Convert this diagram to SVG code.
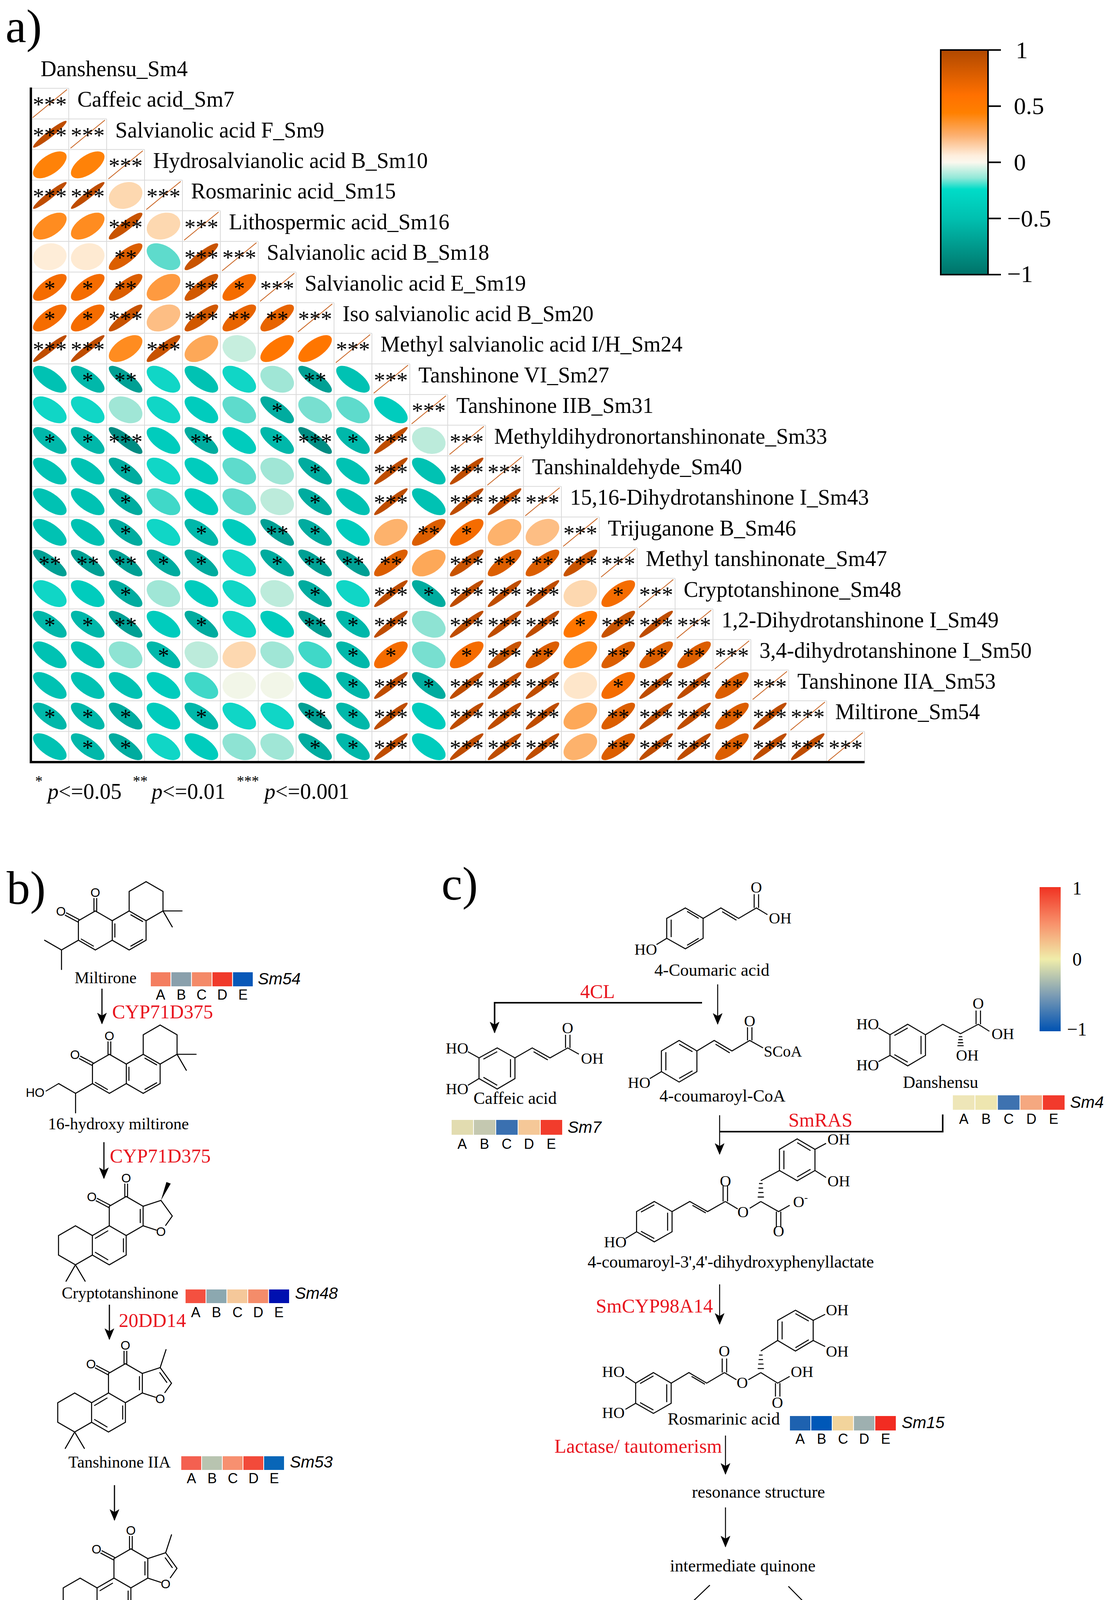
<svg xmlns="http://www.w3.org/2000/svg" xmlns:xlink="http://www.w3.org/1999/xlink" width="2831" height="4820" viewBox="0 0 2831 4820">
<style>
.st{font-family:"Liberation Serif",serif;font-size:58px;text-anchor:middle}
.lb{font-family:"Liberation Serif",serif;font-size:56px}
.big{font-family:"Liberation Serif",serif;font-size:120px}
.nm{font-family:"Liberation Serif",serif;font-size:42px}
.cn{font-family:"Liberation Serif",serif;font-size:44px}
.red{font-family:"Liberation Serif",serif;font-size:50px;fill:#E8141E}
.at{font-family:"Liberation Sans",sans-serif;font-size:32px;text-anchor:middle}
.ct{font-family:"Liberation Serif",serif;font-size:40px}
.abc{font-family:"Liberation Sans",sans-serif;font-size:36px;text-anchor:middle}
.sm{font-family:"Liberation Sans",sans-serif;font-size:42px;font-style:italic}
.bond{fill:none;stroke:#000;stroke-width:2.6;stroke-linecap:round}
.nss{fill:none;stroke:#000;stroke-width:2.6;vector-effect:non-scaling-stroke}
.arr{fill:none;stroke:#000;stroke-width:3}
.cbt{font-family:"Liberation Serif",serif;font-size:62px}
.cbc{font-family:"Liberation Serif",serif;font-size:48px}
.cell rect{stroke:#fff;stroke-width:2}
</style>
<defs>
<linearGradient id="ga" x1="0" y1="0" x2="0" y2="1">
<stop offset="0" stop-color="#B04800"/><stop offset="0.2" stop-color="#FF7000"/><stop offset="0.28" stop-color="#FF8000"/><stop offset="0.38" stop-color="#FCB070"/><stop offset="0.47" stop-color="#FEEEDD"/><stop offset="0.5" stop-color="#FBF8EE"/><stop offset="0.57" stop-color="#90E8D8"/><stop offset="0.62" stop-color="#00DCC8"/><stop offset="0.75" stop-color="#00C0B0"/><stop offset="1" stop-color="#007268"/>
</linearGradient>
<linearGradient id="gc" x1="0" y1="0" x2="0" y2="1">
<stop offset="0" stop-color="#F03222"/><stop offset="0.25" stop-color="#F8906A"/><stop offset="0.5" stop-color="#F0EDAA"/><stop offset="0.75" stop-color="#7C9CB4"/><stop offset="1" stop-color="#0052B2"/>
</linearGradient>
<marker id="ah" viewBox="0 0 12 10" refX="11" refY="5" markerWidth="30" markerHeight="25" orient="auto" markerUnits="userSpaceOnUse"><path d="M0,0 L12,5 L0,10 L3,5 Z" fill="#000"/></marker>
<ellipse id="p95" rx="60" ry="9.6" transform="scale(1,0.8) rotate(-45)" fill="#BF4D00"/>
<ellipse id="p9" rx="59.3" ry="13.6" transform="scale(1,0.8) rotate(-45)" fill="#C85300"/>
<ellipse id="p85" rx="58.5" ry="16.7" transform="scale(1,0.8) rotate(-45)" fill="#D15800"/>
<ellipse id="p8" rx="57.7" ry="19.2" transform="scale(1,0.8) rotate(-45)" fill="#DC5E00"/>
<ellipse id="p75" rx="56.9" ry="21.5" transform="scale(1,0.8) rotate(-45)" fill="#E86400"/>
<ellipse id="p7" rx="56.1" ry="23.6" transform="scale(1,0.8) rotate(-45)" fill="#F56C00"/>
<ellipse id="p65" rx="55.2" ry="25.4" transform="scale(1,0.8) rotate(-45)" fill="#FF7600"/>
<ellipse id="p6" rx="54.4" ry="27.2" transform="scale(1,0.8) rotate(-45)" fill="#FF8208"/>
<ellipse id="p55" rx="53.5" ry="28.8" transform="scale(1,0.8) rotate(-45)" fill="#FF8C20"/>
<ellipse id="p5" rx="52.7" ry="30.4" transform="scale(1,0.8) rotate(-45)" fill="#FE9A40"/>
<ellipse id="p45" rx="51.8" ry="31.9" transform="scale(1,0.8) rotate(-45)" fill="#FDA858"/>
<ellipse id="p4" rx="50.9" ry="33.3" transform="scale(1,0.8) rotate(-45)" fill="#FDB26C"/>
<ellipse id="p35" rx="50" ry="34.7" transform="scale(1,0.8) rotate(-45)" fill="#FDBE84"/>
<ellipse id="p2" rx="47.1" ry="38.5" transform="scale(1,0.8) rotate(-45)" fill="#FDD8B0"/>
<ellipse id="p12" rx="45.5" ry="40.3" transform="scale(1,0.8) rotate(-45)" fill="#FEE6CA"/>
<ellipse id="p1" rx="45.1" ry="40.8" transform="scale(1,0.8) rotate(-45)" fill="#FEEAD2"/>
<ellipse id="p08" rx="44.7" ry="41.2" transform="scale(1,0.8) rotate(-45)" fill="#FEEDD8"/>
<ellipse id="p03" rx="43.6" ry="42.3" transform="scale(1,0.8) rotate(-45)" fill="#F2F6E8"/>
<ellipse id="n15" rx="46.1" ry="39.6" transform="scale(1,0.8) rotate(45)" fill="#C6EEDE"/>
<ellipse id="n2" rx="47.1" ry="38.5" transform="scale(1,0.8) rotate(45)" fill="#BCEBDB"/>
<ellipse id="n3" rx="49" ry="36" transform="scale(1,0.8) rotate(45)" fill="#A0E6D6"/>
<ellipse id="n35" rx="50" ry="34.7" transform="scale(1,0.8) rotate(45)" fill="#8EE3D3"/>
<ellipse id="n4" rx="50.9" ry="33.3" transform="scale(1,0.8) rotate(45)" fill="#78DFD0"/>
<ellipse id="n45" rx="51.8" ry="31.9" transform="scale(1,0.8) rotate(45)" fill="#5EDBCC"/>
<ellipse id="n5" rx="52.7" ry="30.4" transform="scale(1,0.8) rotate(45)" fill="#40D8C8"/>
<ellipse id="n55" rx="53.5" ry="28.8" transform="scale(1,0.8) rotate(45)" fill="#10D6C6"/>
<ellipse id="n6" rx="54.4" ry="27.2" transform="scale(1,0.8) rotate(45)" fill="#00CCBD"/>
<ellipse id="n65" rx="55.2" ry="25.4" transform="scale(1,0.8) rotate(45)" fill="#00C2B3"/>
<ellipse id="n7" rx="56.1" ry="23.6" transform="scale(1,0.8) rotate(45)" fill="#00B8AA"/>
<ellipse id="n75" rx="56.9" ry="21.5" transform="scale(1,0.8) rotate(45)" fill="#00AC9F"/>
<ellipse id="n8" rx="57.7" ry="19.2" transform="scale(1,0.8) rotate(45)" fill="#00A094"/>
<ellipse id="n85" rx="58.5" ry="16.7" transform="scale(1,0.8) rotate(45)" fill="#008C82"/>
<text id="s1" class="st" y="22">*</text>
<text id="s2" class="st" y="22">**</text>
<text id="s3" class="st" y="22">***</text>
<g id="dg"><line x1="-44" y1="36" x2="44" y2="-36" stroke="#C8601C" stroke-width="2"/><text class="st" y="22">***</text></g>
<path id="mSk" class="bond" d="M0,-50 L43.3,-25 L43.3,25 L0,50 L-43.3,25 L-43.3,-25 Z M43.3,-25 L86.6,-50 L129.9,-25 L129.9,25 L86.6,50 L43.3,25 M86.6,-50 L86.6,-100 L129.9,-125 L173.2,-100 L173.2,-50 L129.9,-25 M173.2,-50 L222,-50 M173.2,-50 L197,-9 M-3.5,-50 V-82 M3.5,-50 V-82 M-41.7,-28.1 L-74,-45 M-44.9,-21.9 L-77,-39 M-36,22 L-5,40 M50,-17 V17 M91,-40 L121,-23 M91,40 L121,23 M-43.3,25 L-86.6,50 L-129.9,25 M-86.6,50 L-86.6,100"/>
<path id="tSk" class="bond" d="M0,-50 L43.3,-25 L43.3,25 L0,50 L-43.3,25 L-43.3,-25 Z M-43.3,25 L-86.6,50 L-86.6,100 L-43.3,125 L0,100 L0,50 M-86.6,50 L-129.9,25 L-173.2,50 L-173.2,100 L-129.9,125 L-86.6,100 M-3.5,-50 V-82 M3.5,-50 V-82 M-41.7,-28.1 L-74,-45 M-44.9,-21.9 L-77,-39 M36,-17 V17 M-79,57 L-47,38 M-79,93 L-47,112 M-7,58 V92 M43.3,-25 L89,-40 L118,0 L101,24 M77,36 L43.3,25"/>
<g id="tO"><text class="at" x="0" y="-86">O</text><text class="at" x="-88" y="-38">O</text><text class="at" x="89" y="51">O</text></g>
</defs>
<rect width="2831" height="4820" fill="#fff"/>

<!-- Panel a -->
<g id="panel-a">
<text class="big" x="14" y="108">a)</text>
<text class="lb" x="104" y="195">Danshensu_Sm4</text>
<path d="M176,226V1951M273,304.4V1951M370,382.8V1951M467,461.2V1951M564,539.6V1951M661,618V1951M758,696.4V1951M855,774.8V1951M952,853.2V1951M1049,931.6V1951M1146,1010V1951M1243,1088.4V1951M1340,1166.8V1951M1437,1245.2V1951M1534,1323.6V1951M1631,1402V1951M1728,1480.4V1951M1825,1558.8V1951M1922,1637.2V1951M2019,1715.6V1951M2116,1794V1951M2213,1872.4V1951M79,226H176M79,304.4H273M79,382.8H370M79,461.2H467M79,539.6H564M79,618H661M79,696.4H758M79,774.8H855M79,853.2H952M79,931.6H1049M79,1010H1146M79,1088.4H1243M79,1166.8H1340M79,1245.2H1437M79,1323.6H1534M79,1402H1631M79,1480.4H1728M79,1558.8H1825M79,1637.2H1922M79,1715.6H2019M79,1794H2116M79,1872.4H2213" stroke="#DADADA" stroke-width="2" fill="none"/>
<g id="r0" transform="translate(0,265.2)"><use href="#dg" x="127.5"/><text class="lb" x="198" y="8">Caffeic acid_Sm7</text></g>
<g id="r1" transform="translate(0,343.6)"><use href="#p95" x="127.5"/><use href="#s3" x="127.5"/><use href="#dg" x="224.5"/><text class="lb" x="295" y="8">Salvianolic acid F_Sm9</text></g>
<g id="r2" transform="translate(0,422)"><use href="#p6" x="127.5"/><use href="#p6" x="224.5"/><use href="#dg" x="321.5"/><text class="lb" x="392" y="8">Hydrosalvianolic acid B_Sm10</text></g>
<g id="r3" transform="translate(0,500.4)"><use href="#p95" x="127.5"/><use href="#s3" x="127.5"/><use href="#p95" x="224.5"/><use href="#s3" x="224.5"/><use href="#p2" x="321.5"/><use href="#dg" x="418.5"/><text class="lb" x="489" y="8">Rosmarinic acid_Sm15</text></g>
<g id="r4" transform="translate(0,578.8)"><use href="#p55" x="127.5"/><use href="#p55" x="224.5"/><use href="#p9" x="321.5"/><use href="#s3" x="321.5"/><use href="#p2" x="418.5"/><use href="#dg" x="515.5"/><text class="lb" x="586" y="8">Lithospermic acid_Sm16</text></g>
<g id="r5" transform="translate(0,657.2)"><use href="#p08" x="127.5"/><use href="#p1" x="224.5"/><use href="#p8" x="321.5"/><use href="#s2" x="321.5"/><use href="#n45" x="418.5"/><use href="#p9" x="515.5"/><use href="#s3" x="515.5"/><use href="#dg" x="612.5"/><text class="lb" x="683" y="8">Salvianolic acid B_Sm18</text></g>
<g id="r6" transform="translate(0,735.6)"><use href="#p7" x="127.5"/><use href="#s1" x="127.5"/><use href="#p7" x="224.5"/><use href="#s1" x="224.5"/><use href="#p8" x="321.5"/><use href="#s2" x="321.5"/><use href="#p5" x="418.5"/><use href="#p85" x="515.5"/><use href="#s3" x="515.5"/><use href="#p7" x="612.5"/><use href="#s1" x="612.5"/><use href="#dg" x="709.5"/><text class="lb" x="780" y="8">Salvianolic acid E_Sm19</text></g>
<g id="r7" transform="translate(0,814)"><use href="#p7" x="127.5"/><use href="#s1" x="127.5"/><use href="#p7" x="224.5"/><use href="#s1" x="224.5"/><use href="#p9" x="321.5"/><use href="#s3" x="321.5"/><use href="#p35" x="418.5"/><use href="#p85" x="515.5"/><use href="#s3" x="515.5"/><use href="#p75" x="612.5"/><use href="#s2" x="612.5"/><use href="#p75" x="709.5"/><use href="#s2" x="709.5"/><use href="#dg" x="806.5"/><text class="lb" x="877" y="8">Iso salvianolic acid B_Sm20</text></g>
<g id="r8" transform="translate(0,892.4)"><use href="#p95" x="127.5"/><use href="#s3" x="127.5"/><use href="#p95" x="224.5"/><use href="#s3" x="224.5"/><use href="#p55" x="321.5"/><use href="#p9" x="418.5"/><use href="#s3" x="418.5"/><use href="#p45" x="515.5"/><use href="#n15" x="612.5"/><use href="#p65" x="709.5"/><use href="#p65" x="806.5"/><use href="#dg" x="903.5"/><text class="lb" x="974" y="8">Methyl salvianolic acid I/H_Sm24</text></g>
<g id="r9" transform="translate(0,970.8)"><use href="#n65" x="127.5"/><use href="#n7" x="224.5"/><use href="#s1" x="224.5"/><use href="#n8" x="321.5"/><use href="#s2" x="321.5"/><use href="#n55" x="418.5"/><use href="#n65" x="515.5"/><use href="#n55" x="612.5"/><use href="#n3" x="709.5"/><use href="#n8" x="806.5"/><use href="#s2" x="806.5"/><use href="#n65" x="903.5"/><use href="#dg" x="1000.5"/><text class="lb" x="1071" y="8">Tanshinone VI_Sm27</text></g>
<g id="r10" transform="translate(0,1049.2)"><use href="#n55" x="127.5"/><use href="#n55" x="224.5"/><use href="#n3" x="321.5"/><use href="#n55" x="418.5"/><use href="#n6" x="515.5"/><use href="#n45" x="612.5"/><use href="#n75" x="709.5"/><use href="#s1" x="709.5"/><use href="#n4" x="806.5"/><use href="#n45" x="903.5"/><use href="#n6" x="1000.5"/><use href="#dg" x="1097.5"/><text class="lb" x="1168" y="8">Tanshinone IIB_Sm31</text></g>
<g id="r11" transform="translate(0,1127.6)"><use href="#n7" x="127.5"/><use href="#s1" x="127.5"/><use href="#n7" x="224.5"/><use href="#s1" x="224.5"/><use href="#n85" x="321.5"/><use href="#s3" x="321.5"/><use href="#n6" x="418.5"/><use href="#n75" x="515.5"/><use href="#s2" x="515.5"/><use href="#n6" x="612.5"/><use href="#n7" x="709.5"/><use href="#s1" x="709.5"/><use href="#n85" x="806.5"/><use href="#s3" x="806.5"/><use href="#n7" x="903.5"/><use href="#s1" x="903.5"/><use href="#p95" x="1000.5"/><use href="#s3" x="1000.5"/><use href="#n2" x="1097.5"/><use href="#dg" x="1194.5"/><text class="lb" x="1265" y="8">Methyldihydronortanshinonate_Sm33</text></g>
<g id="r12" transform="translate(0,1206)"><use href="#n65" x="127.5"/><use href="#n65" x="224.5"/><use href="#n75" x="321.5"/><use href="#s1" x="321.5"/><use href="#n55" x="418.5"/><use href="#n6" x="515.5"/><use href="#n45" x="612.5"/><use href="#n3" x="709.5"/><use href="#n75" x="806.5"/><use href="#s1" x="806.5"/><use href="#n65" x="903.5"/><use href="#p95" x="1000.5"/><use href="#s3" x="1000.5"/><use href="#n65" x="1097.5"/><use href="#p95" x="1194.5"/><use href="#s3" x="1194.5"/><use href="#dg" x="1291.5"/><text class="lb" x="1362" y="8">Tanshinaldehyde_Sm40</text></g>
<g id="r13" transform="translate(0,1284.4)"><use href="#n65" x="127.5"/><use href="#n65" x="224.5"/><use href="#n75" x="321.5"/><use href="#s1" x="321.5"/><use href="#n5" x="418.5"/><use href="#n6" x="515.5"/><use href="#n45" x="612.5"/><use href="#n2" x="709.5"/><use href="#n75" x="806.5"/><use href="#s1" x="806.5"/><use href="#n65" x="903.5"/><use href="#p95" x="1000.5"/><use href="#s3" x="1000.5"/><use href="#n65" x="1097.5"/><use href="#p95" x="1194.5"/><use href="#s3" x="1194.5"/><use href="#p95" x="1291.5"/><use href="#s3" x="1291.5"/><use href="#dg" x="1388.5"/><text class="lb" x="1459" y="8">15,16-Dihydrotanshinone I_Sm43</text></g>
<g id="r14" transform="translate(0,1362.8)"><use href="#n65" x="127.5"/><use href="#n65" x="224.5"/><use href="#n75" x="321.5"/><use href="#s1" x="321.5"/><use href="#n55" x="418.5"/><use href="#n7" x="515.5"/><use href="#s1" x="515.5"/><use href="#n6" x="612.5"/><use href="#n8" x="709.5"/><use href="#s2" x="709.5"/><use href="#n75" x="806.5"/><use href="#s1" x="806.5"/><use href="#n6" x="903.5"/><use href="#p4" x="1000.5"/><use href="#p8" x="1097.5"/><use href="#s2" x="1097.5"/><use href="#p7" x="1194.5"/><use href="#s1" x="1194.5"/><use href="#p4" x="1291.5"/><use href="#p35" x="1388.5"/><use href="#dg" x="1485.5"/><text class="lb" x="1556" y="8">Trijuganone B_Sm46</text></g>
<g id="r15" transform="translate(0,1441.2)"><use href="#n8" x="127.5"/><use href="#s2" x="127.5"/><use href="#n8" x="224.5"/><use href="#s2" x="224.5"/><use href="#n8" x="321.5"/><use href="#s2" x="321.5"/><use href="#n75" x="418.5"/><use href="#s1" x="418.5"/><use href="#n75" x="515.5"/><use href="#s1" x="515.5"/><use href="#n55" x="612.5"/><use href="#n75" x="709.5"/><use href="#s1" x="709.5"/><use href="#n8" x="806.5"/><use href="#s2" x="806.5"/><use href="#n8" x="903.5"/><use href="#s2" x="903.5"/><use href="#p8" x="1000.5"/><use href="#s2" x="1000.5"/><use href="#p45" x="1097.5"/><use href="#p9" x="1194.5"/><use href="#s3" x="1194.5"/><use href="#p8" x="1291.5"/><use href="#s2" x="1291.5"/><use href="#p8" x="1388.5"/><use href="#s2" x="1388.5"/><use href="#p9" x="1485.5"/><use href="#s3" x="1485.5"/><use href="#dg" x="1582.5"/><text class="lb" x="1653" y="8">Methyl tanshinonate_Sm47</text></g>
<g id="r16" transform="translate(0,1519.6)"><use href="#n55" x="127.5"/><use href="#n6" x="224.5"/><use href="#n75" x="321.5"/><use href="#s1" x="321.5"/><use href="#n3" x="418.5"/><use href="#n6" x="515.5"/><use href="#n55" x="612.5"/><use href="#n2" x="709.5"/><use href="#n75" x="806.5"/><use href="#s1" x="806.5"/><use href="#n55" x="903.5"/><use href="#p95" x="1000.5"/><use href="#s3" x="1000.5"/><use href="#n75" x="1097.5"/><use href="#s1" x="1097.5"/><use href="#p95" x="1194.5"/><use href="#s3" x="1194.5"/><use href="#p95" x="1291.5"/><use href="#s3" x="1291.5"/><use href="#p95" x="1388.5"/><use href="#s3" x="1388.5"/><use href="#p2" x="1485.5"/><use href="#p7" x="1582.5"/><use href="#s1" x="1582.5"/><use href="#dg" x="1679.5"/><text class="lb" x="1750" y="8">Cryptotanshinone_Sm48</text></g>
<g id="r17" transform="translate(0,1598)"><use href="#n7" x="127.5"/><use href="#s1" x="127.5"/><use href="#n7" x="224.5"/><use href="#s1" x="224.5"/><use href="#n8" x="321.5"/><use href="#s2" x="321.5"/><use href="#n6" x="418.5"/><use href="#n75" x="515.5"/><use href="#s1" x="515.5"/><use href="#n55" x="612.5"/><use href="#n6" x="709.5"/><use href="#n8" x="806.5"/><use href="#s2" x="806.5"/><use href="#n7" x="903.5"/><use href="#s1" x="903.5"/><use href="#p95" x="1000.5"/><use href="#s3" x="1000.5"/><use href="#n35" x="1097.5"/><use href="#p95" x="1194.5"/><use href="#s3" x="1194.5"/><use href="#p95" x="1291.5"/><use href="#s3" x="1291.5"/><use href="#p95" x="1388.5"/><use href="#s3" x="1388.5"/><use href="#p65" x="1485.5"/><use href="#s1" x="1485.5"/><use href="#p9" x="1582.5"/><use href="#s3" x="1582.5"/><use href="#p95" x="1679.5"/><use href="#s3" x="1679.5"/><use href="#dg" x="1776.5"/><text class="lb" x="1847" y="8">1,2-Dihydrotanshinone I_Sm49</text></g>
<g id="r18" transform="translate(0,1676.4)"><use href="#n65" x="127.5"/><use href="#n65" x="224.5"/><use href="#n35" x="321.5"/><use href="#n7" x="418.5"/><use href="#s1" x="418.5"/><use href="#n2" x="515.5"/><use href="#p2" x="612.5"/><use href="#n3" x="709.5"/><use href="#n5" x="806.5"/><use href="#n7" x="903.5"/><use href="#s1" x="903.5"/><use href="#p7" x="1000.5"/><use href="#s1" x="1000.5"/><use href="#n4" x="1097.5"/><use href="#p7" x="1194.5"/><use href="#s1" x="1194.5"/><use href="#p9" x="1291.5"/><use href="#s3" x="1291.5"/><use href="#p8" x="1388.5"/><use href="#s2" x="1388.5"/><use href="#p55" x="1485.5"/><use href="#p8" x="1582.5"/><use href="#s2" x="1582.5"/><use href="#p8" x="1679.5"/><use href="#s2" x="1679.5"/><use href="#p8" x="1776.5"/><use href="#s2" x="1776.5"/><use href="#dg" x="1873.5"/><text class="lb" x="1944" y="8">3,4-dihydrotanshinone I_Sm50</text></g>
<g id="r19" transform="translate(0,1754.8)"><use href="#n65" x="127.5"/><use href="#n65" x="224.5"/><use href="#n65" x="321.5"/><use href="#n6" x="418.5"/><use href="#n5" x="515.5"/><use href="#p03" x="612.5"/><use href="#p03" x="709.5"/><use href="#n65" x="806.5"/><use href="#n7" x="903.5"/><use href="#s1" x="903.5"/><use href="#p95" x="1000.5"/><use href="#s3" x="1000.5"/><use href="#n75" x="1097.5"/><use href="#s1" x="1097.5"/><use href="#p95" x="1194.5"/><use href="#s3" x="1194.5"/><use href="#p95" x="1291.5"/><use href="#s3" x="1291.5"/><use href="#p95" x="1388.5"/><use href="#s3" x="1388.5"/><use href="#p12" x="1485.5"/><use href="#p7" x="1582.5"/><use href="#s1" x="1582.5"/><use href="#p95" x="1679.5"/><use href="#s3" x="1679.5"/><use href="#p95" x="1776.5"/><use href="#s3" x="1776.5"/><use href="#p8" x="1873.5"/><use href="#s2" x="1873.5"/><use href="#dg" x="1970.5"/><text class="lb" x="2041" y="8">Tanshinone IIA_Sm53</text></g>
<g id="r20" transform="translate(0,1833.2)"><use href="#n7" x="127.5"/><use href="#s1" x="127.5"/><use href="#n7" x="224.5"/><use href="#s1" x="224.5"/><use href="#n75" x="321.5"/><use href="#s1" x="321.5"/><use href="#n6" x="418.5"/><use href="#n7" x="515.5"/><use href="#s1" x="515.5"/><use href="#n55" x="612.5"/><use href="#n55" x="709.5"/><use href="#n8" x="806.5"/><use href="#s2" x="806.5"/><use href="#n7" x="903.5"/><use href="#s1" x="903.5"/><use href="#p95" x="1000.5"/><use href="#s3" x="1000.5"/><use href="#n6" x="1097.5"/><use href="#p95" x="1194.5"/><use href="#s3" x="1194.5"/><use href="#p95" x="1291.5"/><use href="#s3" x="1291.5"/><use href="#p95" x="1388.5"/><use href="#s3" x="1388.5"/><use href="#p45" x="1485.5"/><use href="#p8" x="1582.5"/><use href="#s2" x="1582.5"/><use href="#p95" x="1679.5"/><use href="#s3" x="1679.5"/><use href="#p95" x="1776.5"/><use href="#s3" x="1776.5"/><use href="#p8" x="1873.5"/><use href="#s2" x="1873.5"/><use href="#p95" x="1970.5"/><use href="#s3" x="1970.5"/><use href="#dg" x="2067.5"/><text class="lb" x="2138" y="8">Miltirone_Sm54</text></g>
<g id="r21" transform="translate(0,1911.6)"><use href="#n65" x="127.5"/><use href="#n7" x="224.5"/><use href="#s1" x="224.5"/><use href="#n75" x="321.5"/><use href="#s1" x="321.5"/><use href="#n55" x="418.5"/><use href="#n6" x="515.5"/><use href="#n35" x="612.5"/><use href="#n3" x="709.5"/><use href="#n75" x="806.5"/><use href="#s1" x="806.5"/><use href="#n7" x="903.5"/><use href="#s1" x="903.5"/><use href="#p95" x="1000.5"/><use href="#s3" x="1000.5"/><use href="#n6" x="1097.5"/><use href="#p95" x="1194.5"/><use href="#s3" x="1194.5"/><use href="#p95" x="1291.5"/><use href="#s3" x="1291.5"/><use href="#p95" x="1388.5"/><use href="#s3" x="1388.5"/><use href="#p4" x="1485.5"/><use href="#p8" x="1582.5"/><use href="#s2" x="1582.5"/><use href="#p95" x="1679.5"/><use href="#s3" x="1679.5"/><use href="#p95" x="1776.5"/><use href="#s3" x="1776.5"/><use href="#p8" x="1873.5"/><use href="#s2" x="1873.5"/><use href="#p95" x="1970.5"/><use href="#s3" x="1970.5"/><use href="#p95" x="2067.5"/><use href="#s3" x="2067.5"/><use href="#dg" x="2164.5"/></g>
<path d="M79,224V1951H2213" fill="none" stroke="#000" stroke-width="6"/>
<g id="legend-a" font-family="Liberation Serif, serif">
<text x="90" y="2012" font-size="38">*</text><text x="122" y="2045" font-size="56"><tspan font-style="italic">p</tspan>&lt;=0.05</text>
<text x="340" y="2012" font-size="38">**</text><text x="388" y="2045" font-size="56"><tspan font-style="italic">p</tspan>&lt;=0.01</text>
<text x="606" y="2012" font-size="38">***</text><text x="677" y="2045" font-size="56"><tspan font-style="italic">p</tspan>&lt;=0.001</text>
</g>
<g id="colorbar-a">
<rect x="2408" y="128" width="121" height="575" fill="url(#ga)" stroke="#000" stroke-width="4"/>
<path d="M2529,128H2562M2529,271.75H2562M2529,415.5H2562M2529,559.25H2562M2529,703H2562" stroke="#000" stroke-width="4"/>
<text class="cbt" x="2600" y="149">1</text><text class="cbt" x="2595" y="292">0.5</text><text class="cbt" x="2595" y="436">0</text><text class="cbt" x="2578" y="580">−0.5</text><text class="cbt" x="2578" y="722">−1</text>
</g>
</g>

<!-- Panel b -->
<g id="panel-b">
<text class="big" x="17" y="2314">b)</text>
<g id="miltirone" transform="translate(244,2382)"><use href="#mSk"/><text class="at" x="0" y="-86">O</text><text class="at" x="-88" y="-38">O</text></g>
<text class="nm" x="191" y="2517">Miltirone</text>
<g id="hmiltirone" transform="translate(280,2749)"><use href="#mSk"/><path class="bond" d="M-129.9,25 L-162,44"/><text class="at" x="0" y="-86">O</text><text class="at" x="-88" y="-38">O</text><text class="at" x="-190" y="59">HO</text></g>
<text class="nm" x="123" y="2891">16-hydroxy miltirone</text>
<g id="crypto" transform="translate(323,3113)"><use href="#tSk"/><use href="#tO"/><path class="bond" d="M-129.9,125 L-154,167 M-129.9,125 L-105,167"/><path d="M89,-40 L103,-87 L114,-83 Z" fill="#000"/></g>
<text class="nm" x="158" y="3324">Cryptotanshinone</text>
<g id="tan2a" transform="translate(321,3541)"><use href="#tSk"/><use href="#tO"/><path class="bond" d="M-129.9,125 L-154,167 M-129.9,125 L-105,167 M88,-27 L106,-2 M89,-40 L104,-86"/></g>
<text class="nm" x="175" y="3757">Tanshinone IIA</text>
<g id="tan2b" transform="translate(335,4015)"><use href="#tSk"/><use href="#tO"/><path class="bond" d="M88,-27 L106,-2 M89,-40 L104,-86 M-103,164 L-72,164 M-136,133 L-140,136 M-142,140 L-148,145 M-149,148 L-156,154 M-156,156 L-164,163"/><path d="M-129.9,125 L-107,167 L-99,161 Z" fill="#000"/><text class="at" x="-66" y="179" text-anchor="start">OH</text></g>
<text class="nm" x="189" y="4242">Tanshinone IIB</text>
<g id="tanald" transform="translate(344,4463)"><use href="#tSk"/><use href="#tO"/><path class="bond" d="M89,-40 L105,-87 M-129.9,125 L-153,166 M-129.9,125 L-105,166 L-68,166 M-103,159 L-68,159"/><text class="at" x="-52" y="177">O</text></g>
<text class="nm" x="179" y="4692">Tanshinaldehyde</text>
<g id="tan1" transform="translate(863,4439)"><use href="#tSk"/><use href="#tO"/><path class="bond" d="M88,-27 L106,-2 M89,-40 L105,-86 M-166,57 L-134,38 M-166,93 L-134,112 M-129.9,125 V175"/></g>
<text class="nm" x="698" y="4690">Tanshinone I</text>
<g id="b-arrows" class="arr">
<path d="M261,2531V2620" marker-end="url(#ah)"/>
<path d="M266,2924V3016" marker-end="url(#ah)"/>
<path d="M280,3340V3428" marker-end="url(#ah)"/>
<path d="M293,3802V3891" marker-end="url(#ah)"/>
<path d="M299,4255V4345" marker-end="url(#ah)"/>
<path d="M535,4465H625" marker-end="url(#ah)"/>
</g>
<text class="red" x="287" y="2607">CYP71D375</text>
<text class="red" x="281" y="2976">CYP71D375</text>
<text class="red" x="304" y="3397">20DD14</text>
<g id="h-sm54" class="cell"><rect x="385" y="2488" width="52.6" height="38" fill="#F47E60"/><rect x="437.6" y="2488" width="52.6" height="38" fill="#8AA0AC"/><rect x="490.2" y="2488" width="52.6" height="38" fill="#F48A68"/><rect x="542.8" y="2488" width="52.6" height="38" fill="#F03A2A"/><rect x="595.4" y="2488" width="52.6" height="38" fill="#0858B8"/>
<text class="abc" x="411" y="2559">A</text><text class="abc" x="464" y="2559">B</text><text class="abc" x="516" y="2559">C</text><text class="abc" x="569" y="2559">D</text><text class="abc" x="622" y="2559">E</text><text class="sm" x="660" y="2520">Sm54</text></g>
<g id="h-sm48" class="cell"><rect x="474" y="3300" width="53.4" height="37" fill="#F45040"/><rect x="527.4" y="3300" width="53.4" height="37" fill="#8CA8B0"/><rect x="580.8" y="3300" width="53.4" height="37" fill="#F5C89A"/><rect x="634.2" y="3300" width="53.4" height="37" fill="#F48C6A"/><rect x="687.6" y="3300" width="53.4" height="37" fill="#0010B0"/>
<text class="abc" x="501" y="3372">A</text><text class="abc" x="554" y="3372">B</text><text class="abc" x="608" y="3372">C</text><text class="abc" x="661" y="3372">D</text><text class="abc" x="714" y="3372">E</text><text class="sm" x="755" y="3325">Sm48</text></g>
<g id="h-sm53" class="cell"><rect x="463" y="3727" width="53" height="37" fill="#F46050"/><rect x="516" y="3727" width="53" height="37" fill="#B8C4B0"/><rect x="569" y="3727" width="53" height="37" fill="#F79070"/><rect x="622" y="3727" width="53" height="37" fill="#F24A3A"/><rect x="675" y="3727" width="53" height="37" fill="#0866B8"/>
<text class="abc" x="490" y="3797">A</text><text class="abc" x="543" y="3797">B</text><text class="abc" x="596" y="3797">C</text><text class="abc" x="649" y="3797">D</text><text class="abc" x="702" y="3797">E</text><text class="sm" x="742" y="3757">Sm53</text></g>
<g id="h-sm31" class="cell"><rect x="484" y="4221" width="54.4" height="37" fill="#F02A22"/><rect x="538.4" y="4221" width="54.4" height="37" fill="#F5BE8E"/><rect x="592.8" y="4221" width="54.4" height="37" fill="#F48A66"/><rect x="647.2" y="4221" width="54.4" height="37" fill="#F24A3A"/><rect x="701.6" y="4221" width="54.4" height="37" fill="#0858B8"/>
<text class="abc" x="511" y="4293">A</text><text class="abc" x="566" y="4293">B</text><text class="abc" x="620" y="4293">C</text><text class="abc" x="674" y="4293">D</text><text class="abc" x="729" y="4293">E</text><text class="sm" x="770" y="4251">Sm31</text></g>
<g id="h-sm40" class="cell"><rect x="201" y="4725" width="53.4" height="35" fill="#F5A27E"/><rect x="254.4" y="4725" width="53.4" height="35" fill="#8098AC"/><rect x="307.8" y="4725" width="53.4" height="35" fill="#F5A27E"/><rect x="361.2" y="4725" width="53.4" height="35" fill="#F0281E"/><rect x="414.6" y="4725" width="53.4" height="35" fill="#0A56B8"/>
<text class="abc" x="228" y="4792">A</text><text class="abc" x="281" y="4792">B</text><text class="abc" x="335" y="4792">C</text><text class="abc" x="388" y="4792">D</text><text class="abc" x="441" y="4792">E</text><text class="sm" x="489" y="4757">Sm40</text></g>
</g>

<!-- Panel c -->
<g id="panel-c">
<text class="big" x="1130" y="2303">c)</text>
<g id="colorbar-c"><rect x="2661" y="2271" width="54" height="369" fill="url(#gc)"/>
<text class="cbc" x="2745" y="2290">1</text><text class="cbc" x="2745" y="2472">0</text><text class="cbc" x="2731" y="2651">−1</text></g>
<g id="c-struct-top" transform="translate(1050,2080) scale(1.136,0.6378)">
<path class="nss" d="M620,383 L660,425 L660,505 L620,547 L578,505 L578,425 Z M588,430 L588,500 M624,397 L650,425 M624,533 L650,505 M660,425 L700,383 L740,425 L780,383 L805,410 M703,398 L735,432 M775,383 V328 M785,383 V328 M578,505 L555,530"/>
<path class="nss" d="M196,945 L236,985 L236,1068 L196,1110 L155,1068 L155,985 Z M226,990 L226,1063 M196,960 L165,990 M196,1095 L165,1063 M236,985 L275,945 L315,985 L355,945 L380,970 M278,960 L310,993 M350,945 V892 M360,945 V892 M155,985 L130,960 M155,1068 L130,1095"/>
<path class="nss" d="M606,915 L646,957 L646,1040 L606,1082 L566,1040 L566,957 Z M576,962 L576,1035 M606,930 L636,960 M606,1067 L636,1037 M646,957 L685,915 L725,957 L765,915 L795,945 M688,930 L720,965 M760,915 V862 M770,915 V862 M566,1040 L540,1068"/>
<path class="nss" d="M1121,850 L1161,892 L1161,975 L1121,1017 L1081,975 L1081,892 Z M1151,897 L1151,970 M1121,865 L1091,895 M1121,1002 L1091,972 M1081,892 L1055,865 M1081,975 L1055,1000 M1161,892 L1200,850 L1240,888 L1280,850 L1305,878 M1275,850 V795 M1285,850 V795 M1236,900 h8 M1235,912 h10 M1234,924 h12 M1233,936 h14"/>
<path class="nss" d="M872,1310 L912,1352 L912,1437 L872,1478 L832,1437 L832,1352 Z M842,1357 L842,1432 M872,1325 L902,1357 M872,1463 L902,1432 M912,1352 L937,1328 M912,1437 L937,1465 M832,1437 L790,1478"/>
</g>
<g id="c-struct-mid" transform="translate(1050,3050) scale(1.136,0.574)">
<path class="nss" d="M786,-35 h8 M785,-15 h10 M784,5 h12 M783,25 h14 M790,45 L765,75 M738,78 L710,45 M705,45 V-25 M715,45 V-25 M710,45 L670,90 L630,45 L590,90 M636,62 L666,96 M550,45 L590,90 L590,180 L550,225 L510,180 L510,90 Z M580,95 L580,175 M550,60 L520,92 M550,210 L520,178 M510,180 L485,210 M790,45 L830,90 L855,62 M825,90 V160 M835,90 V160"/>
<path class="nss" d="M868,530 L908,575 L908,665 L868,712 L828,665 L828,575 Z M838,580 L838,660 M868,545 L898,578 M868,697 L898,662 M908,575 L935,548 M908,665 L935,692 M828,665 L790,712 M786,730 h8 M785,750 h10 M784,770 h12 M783,790 h14 M790,808 L762,840 M735,840 L708,808 M703,808 V745 M713,808 V745 M708,808 L668,855 L628,808 L588,855 M634,825 L664,860 M548,808 L588,855 L588,945 L548,990 L508,945 L508,855 Z M578,860 L578,940 M548,823 L518,857 M548,975 L518,942 M508,855 L485,825 M508,945 L485,972 M790,808 L828,855 L855,825 M823,855 V915 M833,855 V915"/>
</g>
<g id="c-struct-bot" transform="translate(1050,3900) scale(1.136,0.5867)">
<path class="nss" d="M535,520 L573,563 L573,655 L535,697 L495,655 L495,563 Z M505,568 L505,650 M535,535 L563,565 M535,682 L563,652 M535,520 V465 M573,563 L598,540 M495,655 L455,697 L455,785 M455,785 L428,815 M405,815 L362,775 M357,775 V712 M367,775 V712 M362,775 L310,830 L270,790 L230,830 M302,812 L274,784 M190,790 L230,830 L230,920 L190,963 L150,920 L150,830 Z M160,835 L160,915 M190,805 L220,835 M190,948 L220,915 M150,920 L125,950 M190,963 V1025 M310,830 V980 M310,980 L348,1020 L348,1110 L310,1150 L270,1110 L270,1020 Z M338,1025 L338,1105 M310,995 L280,1025 M310,1135 L280,1105 M270,1020 L245,995 M270,1110 L245,1140 M348,1020 L388,980 L428,1020 L468,980 M392,995 L423,1030 M463,980 V920 M473,980 V920 M468,980 L495,1010 M525,1010 L550,980 M546,960 h8 M545,940 h10 M544,920 h12 M543,900 h14 M550,885 L590,840 M630,708 L668,750 L668,840 L630,883 L590,840 L590,750 Z M600,755 L600,835 M630,723 L658,753 M630,868 L658,837 M668,750 L695,725 M668,840 L695,865 M550,980 L590,1020 L618,992 M585,1020 V1080 M595,1020 V1080 M455,785 L492,825 L525,792 M487,832 L520,799 M492,825 V890"/>
<path class="nss" d="M940,658 L988,658 L1010,735 L988,812 L940,812 L918,735 Z M945,672 L983,672 M998,735 L982,795 M945,798 L983,798 M940,658 L925,612 M988,658 L1003,612 M992,828 l8,-2 M996,845 l10,-3 M1000,862 l12,-4 M1004,879 l14,-5 M1010,893 L1055,900 L1065,990 L1025,1030 L1003,995 M997,955 L1010,893 M1065,990 L1105,1030 L1105,1120 L1065,1165 L1025,1120 L1025,1030 Z M1095,1035 L1095,1115 M1065,1150 L1035,1118 M1035,1035 L1062,1005 M1025,1120 L1000,1150 M1085,835 L1115,850 M1082,845 L1112,860 M1085,840 L1080,785 M1108,688 L1098,605 L1062,585 M1095,613 L1059,593 M1098,605 L1118,570 M1108,688 L1155,705 L1180,645 M1180,645 L1222,665 L1260,605 L1248,520 L1205,497 L1172,560 Z M1248,600 L1240,530 M1182,565 L1207,512 M1192,638 L1218,650 M1205,497 L1198,445 M1248,520 L1268,485 M1105,1030 L1145,990 L1185,1035 L1225,990 M1150,1005 L1180,1040 M1220,990 V930 M1230,990 V930 M1225,990 L1250,1020 M1280,1020 L1305,990 M1301,970 h8 M1300,950 h10 M1299,930 h12 M1298,910 h14 M1305,900 L1345,855 M1385,720 L1425,765 L1425,855 L1385,900 L1345,855 L1345,765 Z M1355,770 L1355,850 M1385,735 L1415,768 M1385,885 L1415,852 M1425,765 L1450,740 M1425,855 L1450,880 M1305,990 L1345,1035 L1372,1005 M1340,1035 V1095 M1350,1035 V1095"/>
<path d="M1055,900 L1080,838 L1092,842 Z M1082,730 L1104,685 L1114,692 Z" fill="#000"/>
</g>
<g id="c-atoms" class="ct">
<text x="1936" y="2285" text-anchor="middle">O</text><text x="1968" y="2364">OH</text><text x="1624" y="2444">HO</text>
<text x="1453" y="2645" text-anchor="middle">O</text><text x="1487" y="2723">OH</text><text x="1141" y="2697">HO</text><text x="1141" y="2801">HO</text>
<text x="1919" y="2627" text-anchor="middle">O</text><text x="1955" y="2705">SCoA</text><text x="1607" y="2785">HO</text>
<text x="2504" y="2582" text-anchor="middle">O</text><text x="2538" y="2660">OH</text><text x="2447" y="2715">OH</text><text x="2192" y="2635">HO</text><text x="2192" y="2740">HO</text>
<text x="2118" y="2930">OH</text><text x="2118" y="3037">OH</text><text x="1857" y="3037" text-anchor="middle">O</text><text x="1902" y="3116" text-anchor="middle">O</text><text x="1993" y="3165" text-anchor="middle">O</text><text x="2030" y="3090">O<tspan font-size="26" dy="-16">-</tspan></text><text x="1546" y="3193">HO</text>
<text x="2114" y="3367">OH</text><text x="2114" y="3473">OH</text><text x="1854" y="3472" text-anchor="middle">O</text><text x="1900" y="3553" text-anchor="middle">O</text><text x="2024" y="3525">OH</text><text x="1990" y="3604" text-anchor="middle">O</text><text x="1541" y="3525">HO</text><text x="1541" y="3630">HO</text>
<text x="1643" y="4164">OH</text><text x="1735" y="4217">OH</text><text x="1461" y="4314" text-anchor="middle">O</text><text x="1655" y="4374" text-anchor="middle">O</text><text x="1520" y="4399" text-anchor="middle">O</text><text x="1582" y="4431" text-anchor="middle">O</text><text x="1599" y="4454">OH</text><text x="1843" y="4328">OH</text><text x="1843" y="4431">OH</text><text x="1135" y="4481">HO</text><text x="1272" y="4487">HO</text><text x="1252" y="4532">OH</text><text x="1272" y="4592">HO</text><text x="1630" y="4510" text-anchor="middle">O</text><text x="1752" y="4487">OH</text><text x="1721" y="4563" text-anchor="middle">O</text>
<text x="2052" y="4255">HO</text><text x="2176" y="4262" transform="rotate(-65 2176 4262)">OH</text><text x="2243" y="4249" text-anchor="middle">O</text><text x="2317" y="4229">OH</text><text x="2365" y="4152">HO</text><text x="2493" y="4180">OH</text><text x="2258" y="4352" text-anchor="middle">O</text><text x="2334" y="4413" text-anchor="middle">O</text><text x="2700" y="4337">OH</text><text x="2700" y="4440">OH</text><text x="2175" y="4484" text-anchor="middle">O</text><text x="2440" y="4440" text-anchor="middle">O</text><text x="2485" y="4517" text-anchor="middle">O</text><text x="2609" y="4493">OH</text><text x="2576" y="4572" text-anchor="middle">O</text><text x="2129" y="4598">HO</text>
</g>
<g id="c-names" class="cn">
<text x="1675" y="2498">4-Coumaric acid</text>
<text x="1212" y="2826">Caffeic acid</text>
<text x="1688" y="2820">4-coumaroyl-CoA</text>
<text x="2311" y="2785">Danshensu</text>
<text x="1504" y="3245" textLength="733">4-coumaroyl-3',4'-dihydroxyphenyllactate</text>
<text x="1709" y="3647">Rosmarinic acid</text>
<text x="1771" y="3834">resonance structure</text>
<text x="1715" y="4023">intermediate quinone</text>
<text x="1453" y="4689">Salvianolic acid E</text>
<text x="2279" y="4683">Salvianolic acid B</text>
</g>
<text class="red" x="1485" y="2555">4CL</text>
<text class="red" x="2018" y="2884">SmRAS</text>
<text class="red" x="1525" y="3360">SmCYP98A14</text>
<text class="red" x="1419" y="3719">Lactase/ tautomerism</text>
<g id="c-arrows" fill="none" stroke="#000">
<path d="M1837,2520V2621" stroke-width="2.5" marker-end="url(#ah)"/>
<path d="M1797,2567H1266V2643" stroke-width="4" marker-end="url(#ah)"/>
<path d="M1842,2855V2954" stroke-width="2.5" marker-end="url(#ah)"/>
<path d="M2413,2853V2897H1842" stroke-width="4"/>
<path d="M1842,3288V3389" stroke-width="2.5" marker-end="url(#ah)"/>
<path d="M1857,3675V3773" stroke-width="2.5" marker-end="url(#ah)"/>
<path d="M1857,3859V3959" stroke-width="2.5" marker-end="url(#ah)"/>
<path d="M1817,4058L1732,4139" stroke-width="2.5" marker-end="url(#ah)"/>
<path d="M2018,4061L2097,4141" stroke-width="2.5" marker-end="url(#ah)"/>
<path d="M1921,4378H2055" stroke-width="2.5" marker-end="url(#ah)"/>
</g>
<g id="h-sm7" class="cell"><rect x="1155" y="2866" width="57" height="40" fill="#E2DCB0"/><rect x="1212" y="2866" width="57" height="40" fill="#C4C8B0"/><rect x="1269" y="2866" width="57" height="40" fill="#3A70B0"/><rect x="1326" y="2866" width="57" height="40" fill="#F5C898"/><rect x="1383" y="2866" width="57" height="40" fill="#F23C2C"/>
<text class="abc" x="1183" y="2941">A</text><text class="abc" x="1240" y="2941">B</text><text class="abc" x="1297" y="2941">C</text><text class="abc" x="1354" y="2941">D</text><text class="abc" x="1411" y="2941">E</text><text class="sm" x="1453" y="2900">Sm7</text></g>
<g id="h-sm4" class="cell"><rect x="2438" y="2803" width="57.6" height="39" fill="#EEE6B8"/><rect x="2495.6" y="2803" width="57.6" height="39" fill="#EEE6B0"/><rect x="2553.2" y="2803" width="57.6" height="39" fill="#3E72B0"/><rect x="2610.8" y="2803" width="57.6" height="39" fill="#F5A880"/><rect x="2668.4" y="2803" width="57.6" height="39" fill="#F23A2C"/>
<text class="abc" x="2467" y="2877">A</text><text class="abc" x="2524" y="2877">B</text><text class="abc" x="2582" y="2877">C</text><text class="abc" x="2640" y="2877">D</text><text class="abc" x="2697" y="2877">E</text><text class="sm" x="2739" y="2836">Sm4</text></g>
<g id="h-sm15" class="cell"><rect x="2021" y="3624" width="54.6" height="39" fill="#1E62B0"/><rect x="2075.6" y="3624" width="54.6" height="39" fill="#0058B8"/><rect x="2130.2" y="3624" width="54.6" height="39" fill="#F2D49C"/><rect x="2184.8" y="3624" width="54.6" height="39" fill="#9EB0B0"/><rect x="2239.4" y="3624" width="54.6" height="39" fill="#F22C22"/>
<text class="abc" x="2048" y="3696">A</text><text class="abc" x="2103" y="3696">B</text><text class="abc" x="2158" y="3696">C</text><text class="abc" x="2212" y="3696">D</text><text class="abc" x="2267" y="3696">E</text><text class="sm" x="2308" y="3656">Sm15</text></g>
<g id="h-sm19" class="cell"><rect x="1431" y="4715" width="55.2" height="39" fill="#3E78B4"/><rect x="1486.2" y="4715" width="55.2" height="39" fill="#0054B4"/><rect x="1541.4" y="4715" width="55.2" height="39" fill="#B4BEB0"/><rect x="1596.6" y="4715" width="55.2" height="39" fill="#3A70B0"/><rect x="1651.8" y="4715" width="55.2" height="39" fill="#F22C22"/>
<text class="abc" x="1459" y="4787">A</text><text class="abc" x="1514" y="4787">B</text><text class="abc" x="1569" y="4787">C</text><text class="abc" x="1624" y="4787">D</text><text class="abc" x="1679" y="4787">E</text><text class="sm" x="1720" y="4745">Sm19</text></g>
<g id="h-sm18" class="cell"><rect x="2249" y="4727" width="57.4" height="40" fill="#1E64B0"/><rect x="2306.4" y="4727" width="57.4" height="40" fill="#3A70B0"/><rect x="2363.8" y="4727" width="57.4" height="40" fill="#F5BC8C"/><rect x="2421.2" y="4727" width="57.4" height="40" fill="#F24C3C"/><rect x="2478.6" y="4727" width="57.4" height="40" fill="#E80A0A"/>
<text class="abc" x="2278" y="4801">A</text><text class="abc" x="2335" y="4801">B</text><text class="abc" x="2392" y="4801">C</text><text class="abc" x="2450" y="4801">D</text><text class="abc" x="2507" y="4801">E</text><text class="sm" x="2550" y="4760">Sm18</text></g>
</g>
</svg>
